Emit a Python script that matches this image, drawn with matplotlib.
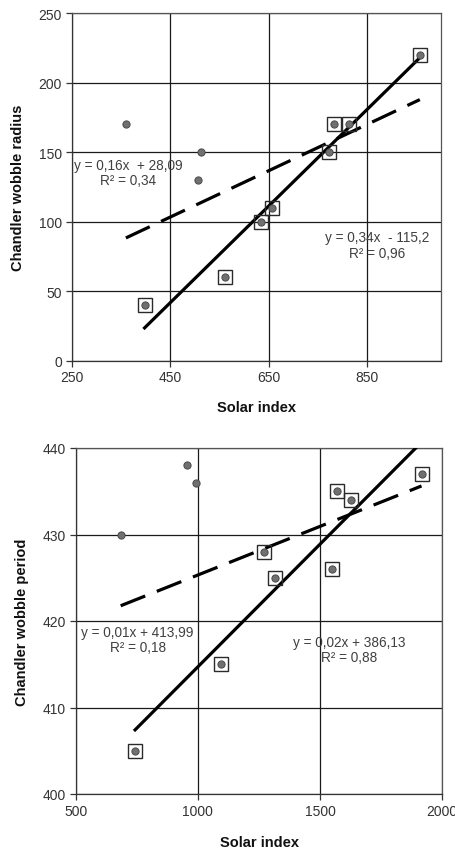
import numpy as np
import matplotlib
matplotlib.use("Agg")
import matplotlib.pyplot as plt

plt.rcParams['font.family'] = ['Liberation Sans', 'DejaVu Sans']
plt.rcParams['lines.scale_dashes'] = False

# ---- Top chart data (Chandler wobble radius vs solar index) ----
r_x_other = [360, 513, 507]
r_y_other = [170, 150, 130]
r_x_sq = [398, 562, 634, 657, 772, 783, 813, 957]
r_y_sq = [40, 60, 100, 110, 150, 170, 170, 220]
r_eq_all = ["y = 0,16x  + 28,09", "R\u00b2 = 0,34"]
r_eq_sq = ["y = 0,34x  - 115,2", "R\u00b2 = 0,96"]
r_xticks = [250, 450, 650, 850]
r_yticks = [0, 50, 100, 150, 200, 250]

# ---- Bottom chart data (Chandler wobble period vs solar index) ----
p_x_other = [684, 955, 994]
p_y_other = [430, 438, 436]
p_x_sq = [743, 1095, 1269, 1315, 1547, 1569, 1626, 1915]
p_y_sq = [405, 415, 428, 425, 426, 435, 434, 437]
p_eq_all = ["y = 0,01x + 413,99", "R\u00b2 = 0,18"]
p_eq_sq = ["y = 0,02x + 386,13", "R\u00b2 = 0,88"]
p_xticks = [500, 1000, 1500, 2000]
p_yticks = [400, 410, 420, 430, 440]

W, H = 455, 853
fig = plt.figure(figsize=(W / 100, H / 100), dpi=100)

TXT = '#333333'
EQC = '#404040'


def panel(rect, xo, yo, xs, ys, xlim, ylim, xticks, yticks, ylabel,
          eq_all, eq_all_pos, eq_sq, eq_sq_pos, ylab_x, xlab_y):
    ax = fig.add_axes(rect)
    ax.set_xlim(*xlim)
    ax.set_ylim(*ylim)
    ax.set_xticks(xticks)
    ax.set_yticks(yticks)
    ax.grid(True, color='#1a1a1a', linewidth=0.9)
    ax.set_axisbelow(True)
    for s in ax.spines.values():
        s.set_color('#555555')
        s.set_linewidth(0.9)
    ax.spines['left'].set_color('#333333')
    ax.spines['bottom'].set_color('#333333')
    ax.tick_params(direction='out', length=4, width=0.9, color='#333333',
                   labelsize=10, labelcolor=TXT, pad=3)

    xa = np.array(xo + xs, dtype=float)
    ya = np.array(yo + ys, dtype=float)
    xsq = np.array(xs, dtype=float)
    ysq = np.array(ys, dtype=float)

    # trend lines
    ca = np.polyfit(xa, ya, 1)
    xx = np.array([xa.min(), xa.max()])
    ax.plot(xx, np.polyval(ca, xx), color='black', lw=2.3,
            dashes=(19, 9), solid_capstyle='butt', dash_capstyle='butt', zorder=3)
    cs = np.polyfit(xsq, ysq, 1)
    xx2 = np.array([xsq.min(), xsq.max()])
    ax.plot(xx2, np.polyval(cs, xx2), color='black', lw=2.3, zorder=3)

    # markers
    ax.plot(xs, ys, ls='none', marker='s', markersize=9.5,
            markerfacecolor='none', markeredgecolor='#2a2a2a',
            markeredgewidth=1.0, zorder=4)
    ax.plot(xa, ya, ls='none', marker='o', markersize=5.2,
            markerfacecolor='#707070', markeredgecolor='#4a4a4a',
            markeredgewidth=0.7, zorder=5)

    for (lines, pos) in ((eq_all, eq_all_pos), (eq_sq, eq_sq_pos)):
        ax.text(pos[0], pos[1], lines[0] + "\n" + lines[1], ha='center',
                va='center', fontsize=9.8, color=EQC, linespacing=1.15,
                transform=ax.transAxes, zorder=6)

    ax.set_xlabel('Solar index', fontsize=10.5, fontweight='bold', color='#111111')
    ax.set_ylabel(ylabel, fontsize=10.5, fontweight='bold', color='#111111')
    ax.xaxis.set_label_coords(0.5, xlab_y)
    ax.xaxis.label.set_verticalalignment('center')
    ax.yaxis.set_label_coords(ylab_x, 0.5)
    ax.yaxis.label.set_verticalalignment('center')
    return ax


# top panel: pixel box left 71.7, right 441, top 14, bottom 361.7
panel([71.7 / W, (H - 361.7) / H, (441 - 71.7) / W, (361.7 - 14) / H],
      r_x_other, r_y_other, r_x_sq, r_y_sq, (250, 1000), (0, 250),
      r_xticks, r_yticks, 'Chandler wobble radius',
      r_eq_all, (0.153, 0.541), r_eq_sq, (0.826, 0.333),
      -0.145, -0.133)

# bottom panel: pixel box left 75.7, right 442.3, top 449, bottom 795
panel([75.7 / W, (H - 795) / H, (442.3 - 75.7) / W, (795 - 449) / H],
      p_x_other, p_y_other, p_x_sq, p_y_sq, (500, 2000), (400, 440),
      p_xticks, p_yticks, 'Chandler wobble period',
      p_eq_all, (0.169, 0.447), p_eq_sq, (0.747, 0.418),
      -0.147, -0.138)

fig.savefig('out.png', dpi=100)
